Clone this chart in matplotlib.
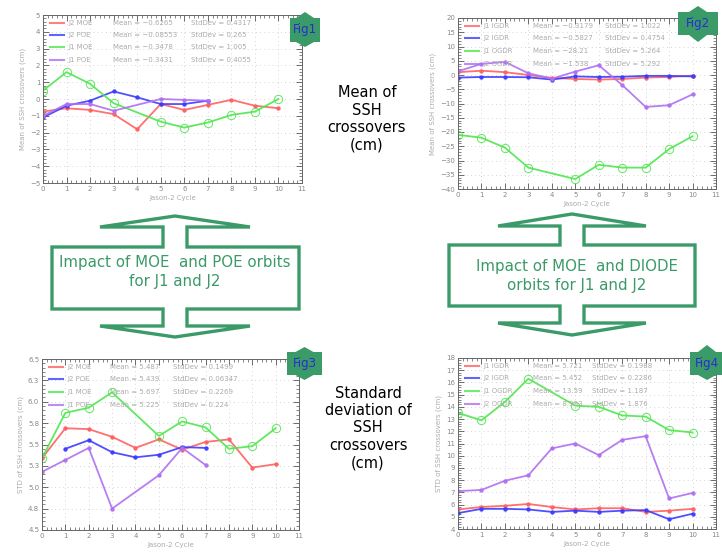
import numpy as np
import matplotlib
matplotlib.use("Agg")
import matplotlib.pyplot as plt
from matplotlib.ticker import MultipleLocator, FixedLocator, FixedFormatter
from matplotlib.patches import Polygon

# ---- data ----
cycles = list(range(11))
cycles_j1 = [0, 1, 2, 3, 5, 6, 7, 8, 9, 10]   # no J1 cycle 4

# Fig1 : mean, MOE / POE
f1_j2_moe = [-0.75, -0.55, -0.65, -0.9, -1.8, -0.3, -0.65, -0.35, -0.05, -0.4, -0.55]
f1_j2_poe_x = [0, 1, 2, 3, 4, 5, 6, 7]
f1_j2_poe = [-1.1, -0.4, -0.1, 0.45, 0.1, -0.3, -0.3, -0.1]
f1_j1_moe = [0.5, 1.6, 0.9, -0.25, -1.35, -1.7, -1.4, -0.95, -0.75, 0.0]
f1_j1_poe_x = [0, 1, 2, 3, 5, 6, 7]
f1_j1_poe = [-1.0, -0.3, -0.3, -0.7, 0.0, -0.05, -0.1]
f1_stats = [("J2 MOE", "-0.6265", "0.4317"), ("J2 POE", "-0.08553", "0.265"),
            ("J1 MOE", "-0.3478", "1.005"), ("J1 POE", "-0.3431", "0.4055")]

# Fig2 : mean, IGDR / OGDR
f2_j1_igdr = [1.0, 1.5, 1.0, 0.0, -1.0, -1.4, -1.6, -1.4, -0.9, -0.7, -0.2]
f2_j2_igdr = [-0.9, -0.7, -0.7, -0.8, -1.6, -0.5, -0.7, -0.6, -0.3, -0.3, -0.5]
f2_j1_ogdr = [-21.0, -22.0, -25.5, -32.5, -36.5, -31.5, -32.5, -32.5, -26.0, -21.5]
f2_j2_ogdr = [1.3, 3.9, 4.6, 0.6, -1.3, 1.2, 3.4, -3.5, -11.2, -10.6, -6.8]
f2_stats = [("J1 IGDR", "-0.3179", "1.022"), ("J2 IGDR", "-0.5827", "0.4754"),
            ("J1 OGDR", "-28.21", "5.264"), ("J2 OGDR", "-1.538", "5.292")]

# Fig3 : std, MOE / POE
f3_j2_moe = [5.34, 5.69, 5.68, 5.59, 5.46, 5.56, 5.44, 5.53, 5.56, 5.23, 5.27]
f3_j2_poe_x = [1, 2, 3, 4, 5, 6, 7]
f3_j2_poe = [5.45, 5.55, 5.41, 5.35, 5.38, 5.47, 5.46]
f3_j1_moe = [5.34, 5.87, 5.93, 6.11, 5.60, 5.77, 5.70, 5.45, 5.48, 5.69]
f3_j1_poe_x = [0, 1, 2, 3, 5, 6, 7]
f3_j1_poe = [5.18, 5.32, 5.46, 4.75, 5.14, 5.46, 5.26]
f3_stats = [("J2 MOE", "5.487", "0.1499"), ("J2 POE", "5.439", "0.06347"),
            ("J1 MOE", "5.697", "0.2269"), ("J1 POE", "5.225", "0.224")]

# Fig4 : std, IGDR / OGDR
f4_j1_igdr = [5.6, 5.8, 5.9, 6.05, 5.8, 5.6, 5.7, 5.7, 5.4, 5.5, 5.65]
f4_j2_igdr = [5.3, 5.65, 5.65, 5.6, 5.4, 5.5, 5.4, 5.5, 5.55, 4.8, 5.25]
f4_j1_ogdr = [13.5, 12.9, 14.4, 16.3, 14.1, 14.0, 13.3, 13.2, 12.1, 11.9]
f4_j2_ogdr = [7.1, 7.2, 7.95, 8.4, 10.6, 11.0, 10.05, 11.3, 11.6, 6.5, 6.95]
f4_stats = [("J1 IGDR", "5.721", "0.1988"), ("J2 IGDR", "5.452", "0.2286"),
            ("J1 OGDR", "13.59", "1.187"), ("J2 OGDR", "8.993", "1.876")]

RED, BLUE, GREEN, PURPLE = "#ff6060", "#3c3cff", "#50e650", "#b070f0"
GRAY = "#ababab"
ARROW = "#3a9a68"

W, H = 722, 554
fig = plt.figure(figsize=(7.22, 5.54), dpi=100)


def px_axes(left, top, right, bottom):
    return fig.add_axes([left / W, 1 - bottom / H, (right - left) / W, (bottom - top) / H])


def style(ax, ylim, ymajor, yminor, ylabel, ylabels=None):
    ax.set_xlim(0, 11)
    ax.set_ylim(*ylim)
    ax.xaxis.set_major_locator(MultipleLocator(1))
    ax.xaxis.set_minor_locator(MultipleLocator(0.2))
    if ylabels is None:
        ax.yaxis.set_major_locator(MultipleLocator(ymajor))
    else:
        ticks = np.arange(ylim[0], ylim[1] + 1e-9, ymajor)
        ax.yaxis.set_major_locator(FixedLocator(ticks))
        ax.yaxis.set_major_formatter(FixedFormatter(ylabels))
    ax.yaxis.set_minor_locator(MultipleLocator(yminor))
    ax.tick_params(which="both", direction="in", top=True, right=True,
                   labelsize=5, labelcolor="#888888", color="#555555", pad=2)
    ax.tick_params(which="major", length=4, width=0.6)
    ax.tick_params(which="minor", length=2, width=0.5)
    ax.grid(True, which="major", color="#c8c8c8", linestyle=(0, (1, 4)), linewidth=0.6)
    for s in ax.spines.values():
        s.set_color("#666666")
        s.set_linewidth(0.7)
    ax.set_xlabel("Jason-2 Cycle", fontsize=5, color=GRAY, labelpad=2)
    ax.set_ylabel(ylabel, fontsize=5, color=GRAY, labelpad=3)


def series(ax, x, y, color, kind):
    if kind == "circle":
        ax.plot(x, y, color=color, lw=1.3, marker="o", ms=6, mfc="none", mec=color,
                mew=0.7, alpha=0.9)
    else:
        ax.plot(x, y, color=color, lw=1.3, marker="o", ms=2.2, mfc=color, mec=color, alpha=0.9)


def legend(ax, stats, colors, cols=(0.10, 0.28, 0.55)):
    for i, ((name, mean, sd), c) in enumerate(zip(stats, colors)):
        y = 0.955 - i * 0.074
        ax.plot([0.027, 0.08], [y, y], color=c, lw=1.5, alpha=0.8,
                transform=ax.transAxes, clip_on=False)
        kw = dict(transform=ax.transAxes, fontsize=5, color=GRAY, va="center")
        ax.text(cols[0], y, name, **kw)
        ax.text(cols[1], y, "Mean = " + mean.replace("-", "\u2212"), **kw)
        ax.text(cols[2], y, "StdDev = " + sd, **kw)


colors = [RED, BLUE, GREEN, PURPLE]

ax1 = px_axes(43, 15, 302, 183)
series(ax1, cycles, f1_j2_moe, RED, "dot")
series(ax1, f1_j2_poe_x, f1_j2_poe, BLUE, "dot")
series(ax1, cycles_j1, f1_j1_moe, GREEN, "circle")
series(ax1, f1_j1_poe_x, f1_j1_poe, PURPLE, "dot")
style(ax1, (-5, 5), 1, 0.2, "Mean of SSH crossovers (cm)")
legend(ax1, f1_stats, colors, cols=(0.10, 0.27, 0.57))

ax2 = px_axes(458, 18, 716, 189)
series(ax2, cycles, f2_j1_igdr, RED, "dot")
series(ax2, cycles, f2_j2_igdr, BLUE, "dot")
series(ax2, cycles_j1, f2_j1_ogdr, GREEN, "circle")
series(ax2, cycles, f2_j2_ogdr, PURPLE, "dot")
style(ax2, (-40, 20), 5, 1, "Mean of SSH crossovers (cm)")
legend(ax2, f2_stats, colors, cols=(0.10, 0.29, 0.57))

ax3 = px_axes(42, 359, 299, 530)
series(ax3, cycles, f3_j2_moe, RED, "dot")
series(ax3, f3_j2_poe_x, f3_j2_poe, BLUE, "dot")
series(ax3, cycles_j1, f3_j1_moe, GREEN, "circle")
series(ax3, f3_j1_poe_x, f3_j1_poe, PURPLE, "dot")
style(ax3, (4.5, 6.5), 0.25, 0.05, "STD of SSH crossovers (cm)",
      ylabels=["4.5", "4.8", "5.0", "5.3", "5.5", "5.8", "6.0", "6.3", "6.5"])
legend(ax3, f3_stats, colors, cols=(0.10, 0.265, 0.51))

ax4 = px_axes(458, 358, 716, 529)
series(ax4, cycles, f4_j1_igdr, RED, "dot")
series(ax4, cycles, f4_j2_igdr, BLUE, "dot")
series(ax4, cycles_j1, f4_j1_ogdr, GREEN, "circle")
series(ax4, cycles, f4_j2_ogdr, PURPLE, "dot")
style(ax4, (4, 18), 1, 0.2, "STD of SSH crossovers (cm)")
legend(ax4, f4_stats, colors, cols=(0.10, 0.29, 0.52))

# ---- overlay in pixel coordinates: arrows, notes, badges ----
ov = fig.add_axes([0, 0, 1, 1], zorder=10)
ov.set_xlim(0, W)
ov.set_ylim(H, 0)
ov.axis("off")
ov.patch.set_alpha(0)


def double_arrow(cx, apex_top, wing_top, box_top, box_bot, wing_bot, apex_bot,
                 half_wing, half_shaft, box_l, box_r):
    pts = [(cx, apex_top), (cx + half_wing, wing_top), (cx + half_shaft, wing_top),
           (cx + half_shaft, box_top), (box_r, box_top), (box_r, box_bot),
           (cx + half_shaft, box_bot), (cx + half_shaft, wing_bot), (cx + half_wing, wing_bot),
           (cx, apex_bot), (cx - half_wing, wing_bot), (cx - half_shaft, wing_bot),
           (cx - half_shaft, box_bot), (box_l, box_bot), (box_l, box_top),
           (cx - half_shaft, box_top), (cx - half_shaft, wing_top), (cx - half_wing, wing_top)]
    ov.add_patch(Polygon(pts, closed=True, fill=False, edgecolor=ARROW, lw=2.4, joinstyle="miter"))


double_arrow(175, 216, 227, 247, 309, 326, 337, 75, 12, 52, 299)
double_arrow(572, 214, 226, 245, 306, 323, 335, 74, 12, 449, 695)

ov.text(175, 272, "Impact of MOE  and POE orbits\nfor J1 and J2", ha="center", va="center",
        fontsize=10.8, color=ARROW, linespacing=1.3)
ov.text(577, 276, "Impact of MOE  and DIODE\norbits for J1 and J2", ha="center", va="center",
        fontsize=10.8, color=ARROW, linespacing=1.3)

ov.text(367, 119, "Mean of\nSSH\ncrossovers\n(cm)", ha="center", va="center",
        fontsize=10.5, color="black", linespacing=1.2)
ov.text(368, 428, "Standard\ndeviation of\nSSH\ncrossovers\n(cm)", ha="center", va="center",
        fontsize=10.5, color="black", linespacing=1.2)


def badge(x0, x1, y_apex, y_top, y_bot, y_apex_b, label):
    cx = (x0 + x1) / 2
    pts = [(x0, y_top), (cx - 9, y_top), (cx, y_apex), (cx + 9, y_top), (x1, y_top),
           (x1, y_bot), (cx + 9, y_bot), (cx, y_apex_b), (cx - 9, y_bot), (x0, y_bot)]
    ov.add_patch(Polygon(pts, closed=True, facecolor=ARROW, edgecolor="none"))
    ov.text(cx, (y_top + y_bot) / 2, label, ha="center", va="center", fontsize=8.5, color="#2c2cd0")


badge(290, 320, 12, 18, 42, 47, "Fig1")
badge(678, 718, 6, 12, 35, 42, "Fig2")
badge(287, 322, 347, 352, 375, 380, "Fig3")
badge(690, 724, 345, 352, 375, 380, "Fig4")

fig.savefig("out.png", dpi=100)
